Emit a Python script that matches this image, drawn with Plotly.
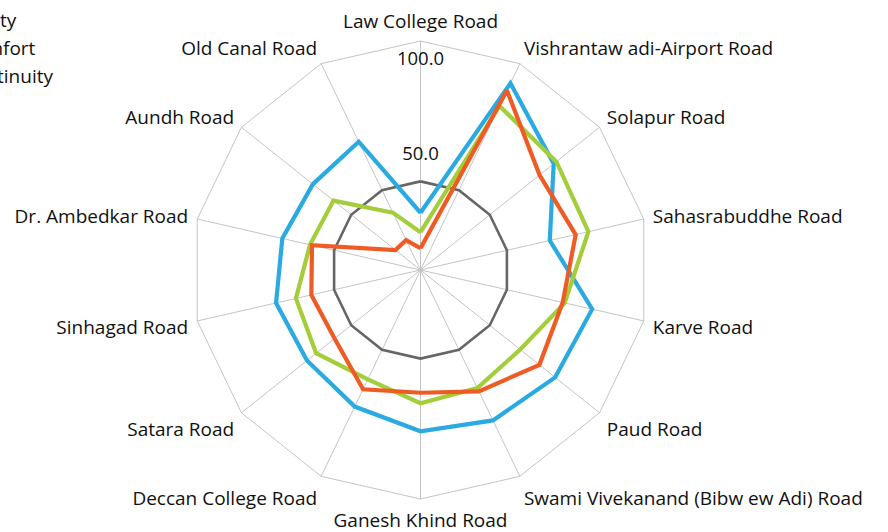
import plotly.graph_objects as go

# Road segments, clockwise from the top
roads = [
    "Law College Road",
    "Vishrantaw adi-Airport Road",
    "Solapur Road",
    "Sahasrabuddhe Road",
    "Karve Road",
    "Paud Road",
    "Swami Vivekanand (Bibw ew Adi) Road",
    "Ganesh Khind Road",
    "Deccan College Road",
    "Satara Road",
    "Sinhagad Road",
    "Dr. Ambedkar Road",
    "Aundh Road",
    "Old Canal Road",
]

safety = [25.0, 90.5, 74.4, 57.9, 76.9, 75.2, 72.9, 70.4, 66.2, 63.4, 64.7, 61.9, 60.1, 62.2]
comfort = [16.5, 79.5, 75.9, 75.2, 64.6, 55.7, 57.2, 58.2, 53.0, 58.3, 55.8, 49.5, 48.6, 27.8]
continuity = [9.5, 87.0, 66.5, 69.5, 63.7, 66.4, 58.8, 53.6, 57.8, 48.0, 48.9, 48.6, 14.0, 14.5]
reference_level = [38.7, 38.7, 38.7, 38.7, 38.7, 38.7, 38.7, 38.7, 38.7, 38.7, 38.7, 38.7, 38.7, 38.7]

radial_ticks = [0, 50, 100]
radial_tick_text = ["0.0", "50.0", "100.0"]

FONT = "Open Sans"


def closed(values):
    return list(values) + [values[0]]


fig = go.Figure()

fig.add_trace(go.Scatterpolar(
    r=closed(reference_level), theta=closed(roads), mode="lines",
    line=dict(color="#666666", width=2.6), showlegend=False, hoverinfo="skip",
))

series = [
    ("Safety", safety, "#29AAE1"),
    ("Comfort", comfort, "#A3CD3A"),
    ("Continuity", continuity, "#F05A23"),
]
for name, vals, color in series:
    fig.add_trace(go.Scatterpolar(
        r=closed(vals), theta=closed(roads), mode="lines", name=name,
        line=dict(color=color, width=4.2),
    ))

# value-axis labels along the top spoke; the first point doubles as the hub marker,
# the invisible marker on the last point pushes its label below the outer ring
fig.add_trace(go.Scatterpolar(
    r=radial_ticks, theta=[roads[0]] * len(radial_ticks), mode="markers+text",
    text=radial_tick_text,
    textposition=["middle right", "middle center", "bottom center"],
    textfont=dict(family=FONT, size=18.5, color="#111111"),
    marker=dict(size=[9, 0, 15],
                color=["#bdbdbd", "rgba(0,0,0,0)", "rgba(0,0,0,0)"]),
    showlegend=False, hoverinfo="skip",
))

W, H = 888, 532
cx, cy, R = 420.5, 270.0, 229.0

fig.update_layout(
    width=W, height=H,
    margin=dict(l=0, r=0, t=0, b=0, autoexpand=False),
    paper_bgcolor="white",
    font=dict(family=FONT, size=19, color="#111111"),
    polar=dict(
        domain=dict(x=[(cx - R) / W, (cx + R) / W],
                    y=[(H - cy - R) / H, (H - cy + R) / H]),
        bgcolor="white",
        gridshape="linear",
        radialaxis=dict(range=[0, 100], tickvals=radial_ticks, showgrid=False,
                        showline=False, showticklabels=False, ticks=""),
        angularaxis=dict(direction="clockwise", rotation=90,
                         showgrid=True, gridcolor="#c4c4c4", gridwidth=1,
                         showline=True, linecolor="#c4c4c4", linewidth=1,
                         ticks="outside", ticklen=5, tickcolor="rgba(0,0,0,0)",
                         tickfont=dict(family=FONT, size=19, color="#111111")),
    ),
    legend=dict(x=-78 / W, y=1 - 1 / H, xanchor="left", yanchor="top",
                font=dict(family=FONT, size=19, color="#111111"),
                tracegroupgap=0, bgcolor="rgba(0,0,0,0)"),
)

fig.write_html("out.html")
